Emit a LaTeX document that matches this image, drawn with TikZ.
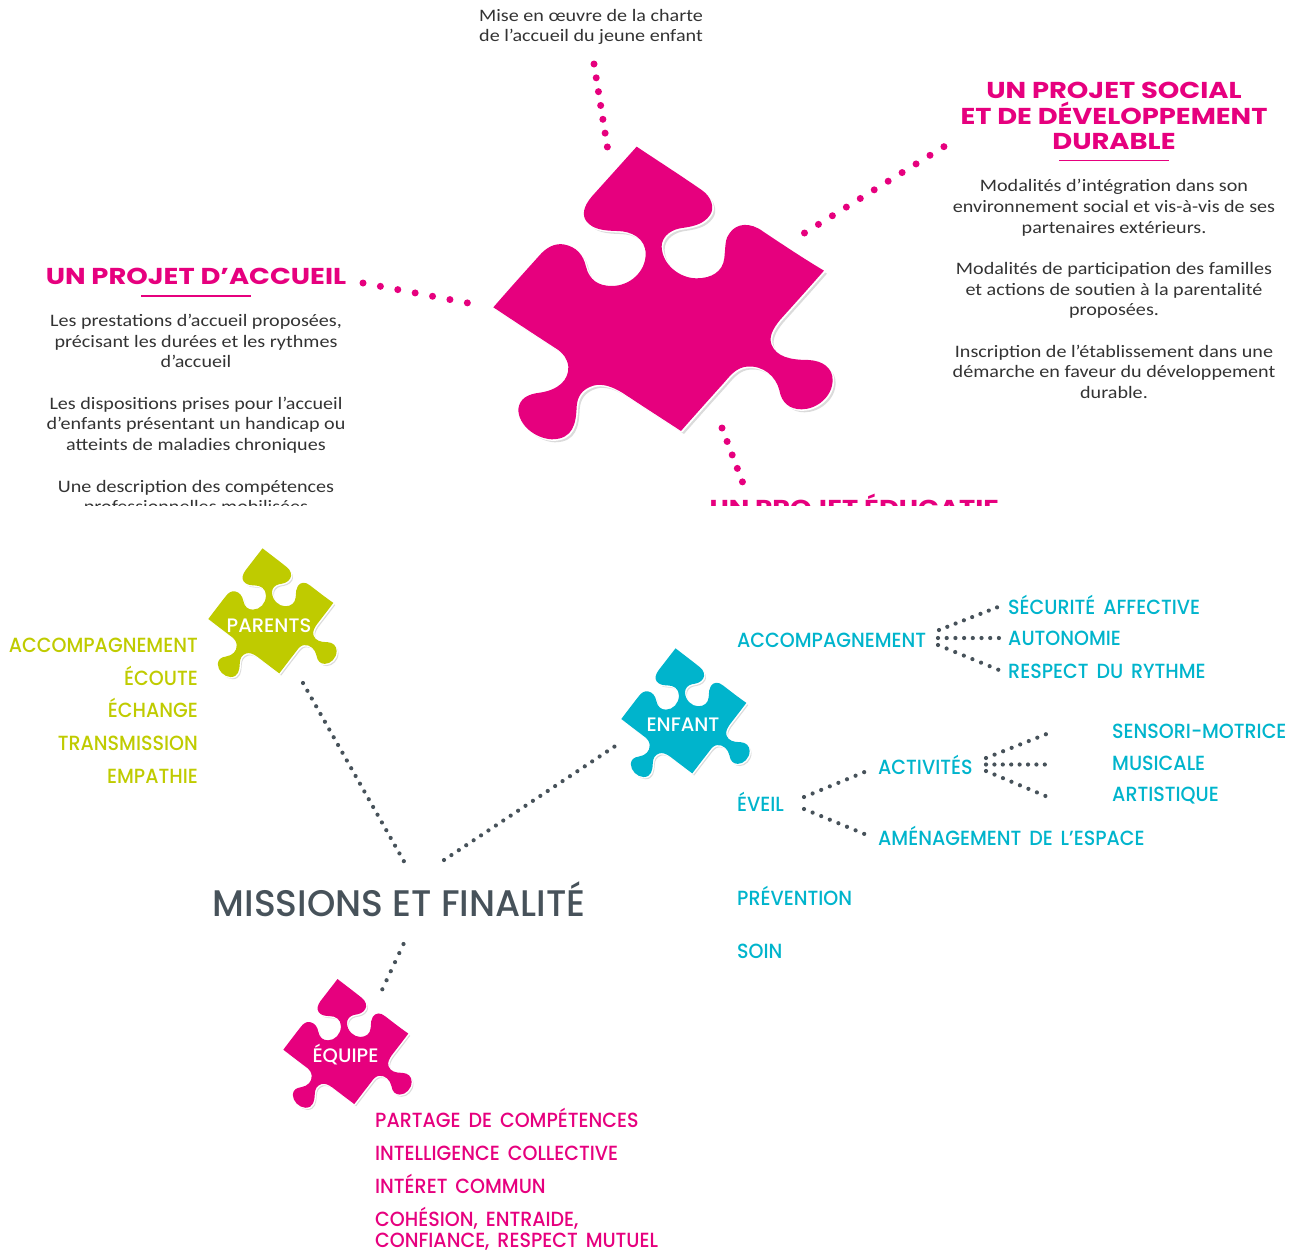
\documentclass[tikz,border=0pt]{standalone}
\usepackage{fontspec}
\setmainfont{Carlito}
\newfontfamily\bodyf[FakeStretch=1.15]{Carlito}
\newfontfamily\geo[FakeStretch=0.93,WordSpace=1.6]{Poppins Medium}
\newfontfamily\geow[FakeStretch=1.0]{Poppins Medium}
\newfontfamily\geom[FakeStretch=0.975]{Poppins Medium}
\newfontfamily\geob[FakeStretch=1.19]{Poppins Bold}
\definecolor{pinkc}{HTML}{E6007E}
\definecolor{olivec}{HTML}{BFCB00}
\definecolor{tealc}{HTML}{00B4CC}
\definecolor{grayc}{HTML}{47525A}
\definecolor{bodyc}{HTML}{333333}
\def\piecepath{
(470,50) .. controls (530,90) and (600,135) .. (665,180)
.. controls (695,200) and (705,235) .. (690,255)
.. controls (670,285) and (635,290) .. (600,295)
.. controls (565,302) and (545,325) .. (545,350)
.. controls (547,405) and (600,445) .. (650,445)
.. controls (695,445) and (728,425) .. (733,385)
.. controls (737,345) and (735,325) .. (750,308)
.. controls (770,280) and (810,275) .. (850,305)
.. controls (910,345) and (970,385) .. (1032,422)
.. controls (990,470) and (945,520) .. (900,570)
.. controls (880,595) and (865,620) .. (875,645)
.. controls (890,680) and (930,690) .. (985,690)
.. controls (1030,692) and (1058,715) .. (1058,750)
.. controls (1058,800) and (1010,838) .. (965,838)
.. controls (930,838) and (905,820) .. (898,780)
.. controls (888,740) and (850,705) .. (800,710)
.. controls (775,712) and (755,730) .. (735,755)
.. controls (690,805) and (645,855) .. (603,903)
.. controls (545,865) and (490,830) .. (430,790)
.. controls (395,768) and (365,760) .. (340,767)
.. controls (305,778) and (292,800) .. (290,830)
.. controls (288,880) and (280,928) .. (215,928)
.. controls (165,925) and (115,885) .. (115,838)
.. controls (118,805) and (145,792) .. (180,788)
.. controls (235,780) and (267,750) .. (265,710)
.. controls (262,685) and (250,672) .. (235,660)
.. controls (170,618) and (105,575) .. (40,532)
.. controls (85,480) and (130,430) .. (175,380)
.. controls (200,350) and (225,340) .. (250,343)
.. controls (290,350) and (310,375) .. (318,410)
.. controls (328,450) and (355,468) .. (395,468)
.. controls (450,468) and (497,425) .. (497,372)
.. controls (497,325) and (455,303) .. (410,303)
.. controls (370,302) and (340,298) .. (320,275)
.. controls (305,255) and (310,230) .. (335,200)
.. controls (380,150) and (425,100) .. (470,50)
-- cycle}
\newcommand{\puzzle}[6]{%
 \begin{scope}[shift={(#2,#3)},xscale=#4,yscale=#5]
  \fill[black!14,line join=round,shift={(#6*3,#6*3)}] \piecepath;
  \fill[white,draw=white,line join=round,line width=1.6pt,shift={(#6*0.8,#6*0.8)}] \piecepath;
  \fill[#1] \piecepath;
 \end{scope}}
\tikzset{
 pinkdots/.style={pinkc,line width=7pt,line cap=round,dash pattern=on 0pt off #1},
 graydots/.style={grayc,line width=4.2pt,line cap=round,dash pattern=on 0pt off #1},
 bodytxt/.style={font=\bodyf\fontsize{17.5}{21}\selectfont,text=bodyc,anchor=base,inner sep=0pt},
 bigtitle/.style={font=\geob\fontsize{23}{25}\selectfont,text=pinkc,anchor=base,inner sep=0pt},
 itemw/.style={font=\geo\fontsize{20.5}{22}\selectfont,anchor=base west,inner sep=0pt},
 iteme/.style={font=\geo\fontsize{20.5}{22}\selectfont,anchor=base east,inner sep=0pt,text=olivec},
 piecelabel/.style={font=\geow\fontsize{19.5}{22}\selectfont,text=white,anchor=base,inner sep=0pt},
 rulec/.style={draw=pinkc,line width=1.1pt},
}
\begin{document}
\begin{tikzpicture}[x=1pt,y=-1pt]
\useasboundingbox (0,0) rectangle (1298,1254);
% upper panel
\begin{scope}
\clip (0,0) rectangle (1298,505.5);
\node[bodytxt] (m1) at (591,21) {Mise en œuvre de la charte};
\node[bodytxt] (m2) at (591,41.5) {de l’accueil du jeune enfant};
\puzzle{pinkc}{480}{130}{0.3333}{0.3333}{3}
\node[bigtitle] (t1a) at (1114,98.5) {UN PROJET SOCIAL};
\node[bigtitle] (t1b) at (1114,124) {ET DE DÉVELOPPEMENT};
\node[bigtitle] (t1c) at (1114,149.5) {DURABLE};
\coordinate (r1a) at (1059,160.5); \coordinate (r1b) at (1169,160.5);
\draw[rulec] (r1a) -- (r1b);
\node[bodytxt] (b1) at (1114,191.5) {Modalités d’intégration dans son};
\node[bodytxt] (b2) at (1114,212) {environnement social et vis-à-vis de ses};
\node[bodytxt] (b3) at (1114,233) {partenaires extérieurs.};
\node[bodytxt] (b4) at (1114,274) {Modalités de participation des familles};
\node[bodytxt] (b5) at (1114,295) {et actions de soutien à la parentalité};
\node[bodytxt] (b6) at (1114,315.5) {proposées.};
\node[bodytxt] (b7) at (1114,357) {Inscription de l’établissement dans une};
\node[bodytxt] (b8) at (1114,377.5) {démarche en faveur du développement};
\node[bodytxt] (b9) at (1114,398.5) {durable.};
\node[bigtitle] (t2) at (196,284) {UN PROJET D’ACCUEIL};
\coordinate (r2a) at (141,296); \coordinate (r2b) at (251,296);
\draw[rulec] (r2a) -- (r2b);
\node[bodytxt] (c1) at (196,326) {Les prestations d’accueil proposées,};
\node[bodytxt] (c2) at (196,347) {précisant les durées et les rythmes};
\node[bodytxt] (c3) at (196,367.5) {d’accueil};
\node[bodytxt] (c4) at (196,409) {Les dispositions prises pour l’accueil};
\node[bodytxt] (c5) at (196,429.5) {d’enfants présentant un handicap ou};
\node[bodytxt] (c6) at (196,450.5) {atteints de maladies chroniques};
\node[bodytxt] (c7) at (196,492) {Une description des compétences};
\node[bodytxt] (c8) at (196,512.5) {professionnelles mobilisées};
\node[bigtitle] (t3) at (854,516) {UN PROJET ÉDUCATIF};
\end{scope}
\coordinate (p1a) at (594,64);  \coordinate (p1b) at (607.5,148);
\coordinate (p2a) at (804.5,233); \coordinate (p2b) at (945,146);
\coordinate (p3a) at (363,283); \coordinate (p3b) at (468,303);
\coordinate (p4a) at (722,428); \coordinate (p4b) at (742.5,482);
\draw[pinkdots=14] (p1a) -- (p1b);
\draw[pinkdots=16.4] (p2a) -- (p2b);
\draw[pinkdots=17.7] (p3a) -- (p3b);
\draw[pinkdots=14.4] (p4a) -- (p4b);
% lower panel
\puzzle{olivec}{203.3}{541}{0.126}{0.1466}{5}
\puzzle{tealc}{616.3}{641}{0.126}{0.1466}{5}
\puzzle{pinkc}{278.3}{971.7}{0.126}{0.1466}{5}
\node[piecelabel] (parents) at (269,632) {PARENTS};
\node[piecelabel] (enfant) at (683,731) {ENFANT};
\node[piecelabel] (equipe) at (345.5,1062) {ÉQUIPE};
\node[font=\geom\fontsize{37}{40}\selectfont,text=grayc,anchor=base,inner sep=0pt] (mission) at (399,916) {MISSIONS ET FINALITÉ};
% parents items
\node[iteme] (pa1) at (198,652) {ACCOMPAGNEMENT};
\node[iteme] (pa2) at (198,685) {ÉCOUTE};
\node[iteme] (pa3) at (198,717) {ÉCHANGE};
\node[iteme] (pa4) at (198,750.5) {TRANSMISSION};
\node[iteme] (pa5) at (198,783) {EMPATHIE};
% enfant items
\begin{scope}[every node/.append style={itemw,text=tealc}]
\node (e1) at (737,647.5) {ACCOMPAGNEMENT};
\node (e2) at (1008,614) {SÉCURITÉ AFFECTIVE};
\node (e3) at (1008,645.5) {AUTONOMIE};
\node (e4) at (1008,678) {RESPECT DU RYTHME};
\node (e5) at (737,811) {ÉVEIL};
\node (e6) at (878,774) {ACTIVITÉS};
\node (e7) at (878,845) {AMÉNAGEMENT DE L’ESPACE};
\node (e8) at (1112,738.5) {SENSORI-MOTRICE};
\node (e9) at (1112,770.5) {MUSICALE};
\node (e10) at (1112,801.5) {ARTISTIQUE};
\node (e11) at (737,905.5) {PRÉVENTION};
\node (e12) at (737,958.5) {SOIN};
\end{scope}
% equipe items
\begin{scope}[every node/.append style={itemw,text=pinkc}]
\node (q1) at (375,1127.5) {PARTAGE DE COMPÉTENCES};
\node (q2) at (375,1160) {INTELLIGENCE COLLECTIVE};
\node (q3) at (375,1193) {INTÉRET COMMUN};
\node (q4) at (375,1226) {COHÉSION, ENTRAIDE,};
\node (q5) at (375,1247.5) {CONFIANCE, RESPECT MUTUEL};
\end{scope}
% gray connectors
\coordinate (g1a) at (303,683); \coordinate (g1b) at (404.3,862);
\coordinate (g2a) at (444,860); \coordinate (g2b) at (618.3,744);
\coordinate (g3a) at (403.5,944); \coordinate (g3b) at (382,990);
\draw[graydots=8.9] (g1a) -- (g1b);
\draw[graydots=8.9] (g2a) -- (g2b);
\draw[graydots=10] (g3a) -- (g3b);
\coordinate (a0u) at (939,630); \coordinate (a1) at (1000.5,606);
\coordinate (a0m) at (938,638); \coordinate (a2) at (999,638);
\coordinate (a0d) at (938,645); \coordinate (a3) at (999,670);
\draw[graydots=8.9] (a0u) -- (a1);
\draw[graydots=8.7] (a0m) -- (a2);
\draw[graydots=9.3] (a0d) -- (a3);
\coordinate (v0u) at (804,797); \coordinate (v1) at (864.5,772);
\coordinate (v0d) at (804,809); \coordinate (v2) at (864.5,834);
\draw[graydots=9.3] (v0u) -- (v1);
\draw[graydots=9.3] (v0d) -- (v2);
\coordinate (c0u) at (986,758); \coordinate (c1x) at (1046.5,734);
\coordinate (c0m) at (986,764.5); \coordinate (c2x) at (1045,764.5);
\coordinate (c0d) at (986,771); \coordinate (c3x) at (1045.5,796);
\draw[graydots=9.2] (c0u) -- (c1x);
\draw[graydots=8.4] (c0m) -- (c2x);
\draw[graydots=9.2] (c0d) -- (c3x);
\end{tikzpicture}
\end{document}
